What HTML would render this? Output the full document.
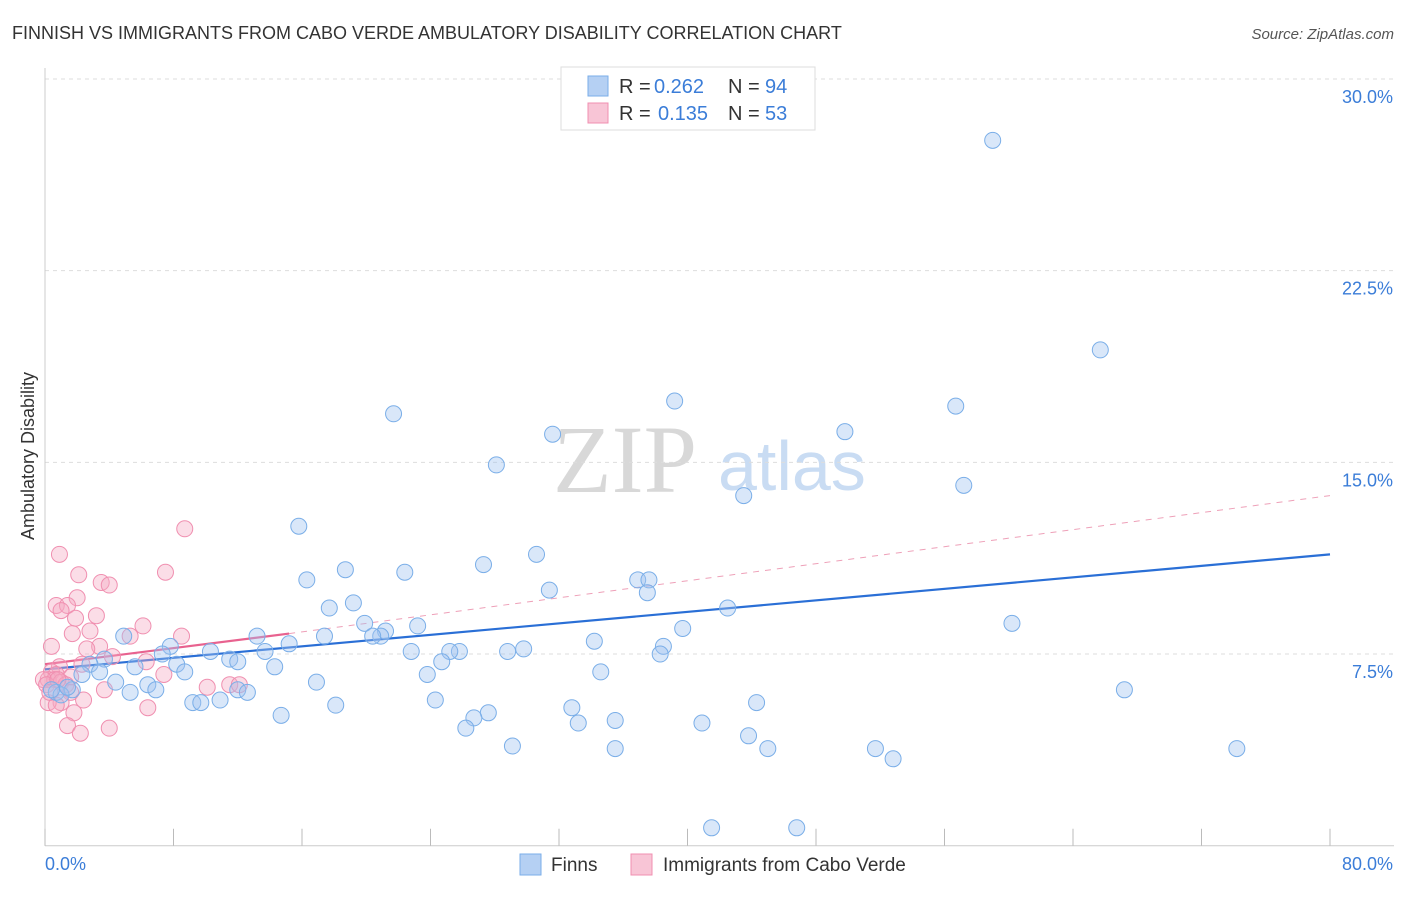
<!DOCTYPE html>
<html><head><meta charset="utf-8"><style>
body{margin:0;background:#fff;font-family:"Liberation Sans",sans-serif;}
svg text{font-family:"Liberation Sans",sans-serif;}
</style></head><body>
<svg id="chart" width="1406" height="892" xmlns="http://www.w3.org/2000/svg">
<text x="12" y="39" font-size="18" fill="#333">FINNISH VS IMMIGRANTS FROM CABO VERDE AMBULATORY DISABILITY CORRELATION CHART</text>
<text x="1394" y="39" font-size="15" fill="#555" text-anchor="end" font-style="italic">Source: ZipAtlas.com</text>
<text x="553" y="492" font-size="96" fill="#d8d8d8" style="font-family:'Liberation Serif',serif">ZIP</text>
<text x="718" y="490" font-size="70" fill="#c9dcf3">atlas</text>
<g id="grid"></g>
<g id="axes"></g>
<g id="lines"></g>
<g id="points"></g>
<text transform="translate(34,456) rotate(-90)" font-size="18" fill="#333" text-anchor="middle">Ambulatory Disability</text>
<g>
<rect x="561" y="67" width="254" height="63" fill="#fff" stroke="#ddd"/>
<rect x="588" y="76" width="20" height="20" fill="#b5d0f3" stroke="#7aaee8"/>
<text x="619" y="93" font-size="20" fill="#333">R =</text>
<text x="654" y="93" font-size="20" fill="#3b7dd8">0.262</text>
<text x="728" y="93" font-size="20" fill="#333">N =</text>
<text x="765" y="93" font-size="20" fill="#3b7dd8">94</text>
<rect x="588" y="103" width="20" height="20" fill="#f8c5d6" stroke="#f08fb0"/>
<text x="619" y="120" font-size="20" fill="#333">R =</text>
<text x="658" y="120" font-size="20" fill="#3b7dd8">0.135</text>
<text x="728" y="120" font-size="20" fill="#333">N =</text>
<text x="765" y="120" font-size="20" fill="#3b7dd8">53</text>
</g>
<g>
<rect x="520" y="854" width="21" height="21" fill="#b5d0f3" stroke="#7aaee8"/>
<text x="551" y="871" font-size="19" fill="#333">Finns</text>
<rect x="631" y="854" width="21" height="21" fill="#f8c5d6" stroke="#f08fb0"/>
<text x="663" y="871" font-size="19" fill="#333">Immigrants from Cabo Verde</text>
</g>
</svg>
<script>
const yTicks=[7.5,15,22.5,30];
const yTickLabels=["7.5%","15.0%","22.5%","30.0%"];
const xTickLabels=["0.0%","80.0%"];
const finnsX=[59.0,65.7,56.7,39.2,21.7,49.8,31.6,28.1,57.2,43.5,15.8,30.6,27.3,18.7,22.4,16.3,36.9,37.6,31.4,37.5,19.2,17.7,42.5,60.2,19.9,23.2,39.7,21.2,20.9,20.4,17.4,4.9,13.2,34.2,15.2,38.5,29.8,25.8,25.2,22.8,28.8,38.3,10.3,13.7,7.8,7.3,11.5,12.0,24.7,5.6,8.2,3.7,2.8,14.3,8.7,2.3,3.4,34.6,23.8,4.4,16.9,6.4,67.2,5.3,6.9,1.7,12.0,12.6,0.7,1.0,24.3,9.2,9.7,10.9,18.1,44.3,32.8,27.6,26.7,14.7,35.5,33.2,40.9,26.2,43.8,29.1,35.5,45.0,51.7,74.2,52.8,41.5,46.8,1.4,0.4];
const finnsY=[27.6,19.4,17.2,17.4,16.9,16.2,16.1,14.9,14.1,13.7,12.5,11.4,11.0,10.8,10.7,10.4,10.4,10.4,10.0,9.9,9.5,9.3,9.3,8.7,8.7,8.6,8.5,8.4,8.2,8.2,8.2,8.2,8.2,8.0,7.9,7.8,7.7,7.6,7.6,7.6,7.6,7.5,7.6,7.6,7.8,7.5,7.3,7.2,7.2,7.0,7.1,7.3,7.1,7.0,6.8,6.7,6.8,6.8,6.7,6.4,6.4,6.3,6.1,6.0,6.1,6.1,6.1,6.0,6.0,5.9,5.7,5.6,5.6,5.7,5.5,5.6,5.4,5.2,5.0,5.1,4.9,4.8,4.8,4.6,4.3,3.9,3.8,3.8,3.8,3.8,3.4,0.7,0.7,6.2,6.1];
const caboX=[0.9,8.7,2.1,7.5,3.5,4.0,2.0,0.7,1.4,1.0,3.2,1.9,6.1,8.5,1.7,2.8,0.4,3.4,2.6,4.2,6.3,2.3,0.9,0.4,0.7,1.6,7.4,0.2,0.6,1.0,1.3,-0.1,10.1,11.5,12.1,3.7,1.6,2.4,1.0,0.2,0.7,6.4,1.8,1.4,4.0,2.2,0.1,0.3,0.8,5.3];
const caboY=[11.4,12.4,10.6,10.7,10.3,10.2,9.7,9.4,9.4,9.2,9.0,8.9,8.6,8.2,8.3,8.4,7.8,7.8,7.7,7.4,7.2,7.1,7.0,6.8,6.7,6.6,6.7,6.5,6.5,6.4,6.3,6.5,6.2,6.3,6.3,6.1,6.0,5.7,5.6,5.6,5.5,5.4,5.2,4.7,4.6,4.4,6.3,6.0,6.5,8.2];
const finnsTrend=[0,6.9,80,11.4];
const caboTrend=[0,7.1,15.2,8.3,80,13.7];
const X0=45,X1=1330,Y0=845.7,Y30=79;
const xs=v=>X0+(v/80)*(X1-X0);
const ys=v=>Y0-(v/30)*(Y0-Y30);
const NS="http://www.w3.org/2000/svg";
function mk(tag,attrs,parent){const e=document.createElementNS(NS,tag);for(const k in attrs)e.setAttribute(k,attrs[k]);parent.appendChild(e);return e;}
const grid=document.getElementById('grid'),axes=document.getElementById('axes'),lines=document.getElementById('lines'),pts=document.getElementById('points');
yTicks.forEach((t,i)=>{
 const l=mk('line',{x1:X0,x2:1394,y1:ys(t),y2:ys(t),stroke:'#ddd','stroke-dasharray':'4,4'},grid);
 
 
 const tx=mk('text',{x:1393,y:ys(t)+24,'font-size':18,fill:'#3b7dd8','text-anchor':'end'},axes);
 tx.textContent=yTickLabels[i];
 
 
});
const yax=mk('line',{x1:X0,x2:X0,y1:68,y2:Y0,stroke:'#ccc'},axes);


const xax=mk('line',{x1:X0,x2:1394,y1:Y0,y2:Y0,stroke:'#ccc'},axes);


for(let i=0;i<=10;i++){
 const t=mk('line',{x1:xs(i*8),x2:xs(i*8),y1:Y0-17,y2:Y0,stroke:'#bbb'},axes);
 
 
}
const xl0=mk('text',{x:45,y:870,'font-size':18,fill:'#3b7dd8'},axes);xl0.textContent=xTickLabels[0];


const xl1=mk('text',{x:1393,y:870,'font-size':18,fill:'#3b7dd8','text-anchor':'end'},axes);xl1.textContent=xTickLabels[1];


const ct=mk('line',{x1:xs(caboTrend[2]),y1:ys(caboTrend[3]),x2:xs(caboTrend[4]),y2:ys(caboTrend[5]),stroke:'#eea0b8','stroke-dasharray':'6,6','stroke-width':1},lines);


caboX.forEach((v,i)=>{
 const c=mk('circle',{cx:xs(v),cy:ys(caboY[i]),r:8,fill:'rgba(244,170,195,0.4)',stroke:'#f08fb0','stroke-width':1},pts);
 
 
});
finnsX.forEach((v,i)=>{
 const c=mk('circle',{cx:xs(v),cy:ys(finnsY[i]),r:8,fill:'rgba(160,196,240,0.4)',stroke:'#7aaee8','stroke-width':1},pts);
 
 
});
const ft=mk('line',{x1:xs(finnsTrend[0]),y1:ys(finnsTrend[1]),x2:xs(finnsTrend[2]),y2:ys(finnsTrend[3]),stroke:'#2a6fd6','stroke-width':2.2},lines);


const cs=mk('line',{x1:xs(caboTrend[0]),y1:ys(caboTrend[1]),x2:xs(caboTrend[2]),y2:ys(caboTrend[3]),stroke:'#e8628f','stroke-width':2.2},lines);


</script>
</body></html>
